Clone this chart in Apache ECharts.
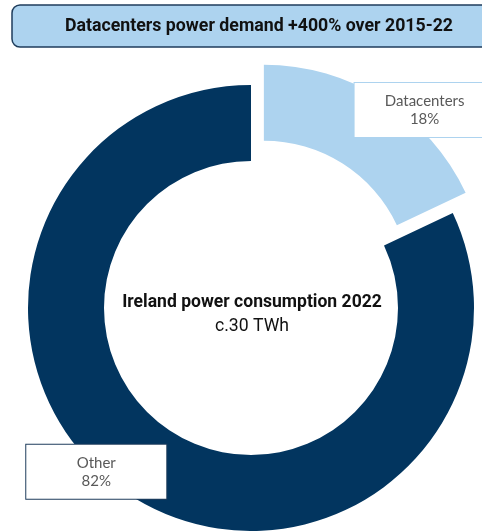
<!DOCTYPE html>
<html>
<head>
<meta charset="utf-8">
<script src="https://cdn.jsdelivr.net/npm/echarts@6/dist/echarts.min.js"></script>
<style>
  html, body { margin: 0; padding: 0; background: #ffffff; }
  #chart { width: 482px; height: 531px; }
</style>
</head>
<body>
<div id="chart"></div>
<script>
// Share of Irish power consumption, 2022 (%)
const categories = ['Datacenters', 'Other'];
const shares = [18, 82];
const sliceColors = ['#ADD3EF', '#02355F'];
const labelBorders = ['#ADD3EF', '#1F3D5C'];

const headline = 'Datacenters power demand +400% over 2015-22';
const centerTitle = 'Ireland power consumption 2022';
const centerSub = 'c.30 TWh';

// label boxes are nudged from the slice midpoints
const labelShifts = [[60, -19], [-54, 5]];

const chart = echarts.init(document.getElementById('chart'), null, { renderer: 'canvas' });

const data = categories.map((name, i) => ({
  name: name,
  value: shares[i],
  selected: i === 0,
  itemStyle: { color: sliceColors[i] },
  label: { borderColor: labelBorders[i], offset: labelShifts[i] },
  select: {
    itemStyle: { color: sliceColors[i], borderWidth: 0 },
    label: { borderColor: labelBorders[i], offset: labelShifts[i] }
  }
}));

chart.setOption({
  animation: false,
  graphic: [
    {
      type: 'rect',
      shape: { x: 12, y: 5, width: 480, height: 42, r: 8 },
      style: { fill: '#ADD3EF', stroke: '#1F3D5C', lineWidth: 1.5 },
      z: 10
    },
    {
      type: 'text',
      x: 259, y: 26, scaleX: 0.985,
      style: {
        text: headline, fill: '#111111',
        font: 'bold 18px Roboto', textAlign: 'center', textVerticalAlign: 'middle'
      },
      z: 11
    },
    {
      type: 'text',
      x: 252, y: 302, scaleX: 0.975,
      style: {
        text: centerTitle, fill: '#111111',
        font: 'bold 18px Roboto', textAlign: 'center', textVerticalAlign: 'middle'
      },
      z: 11
    },
    {
      type: 'text',
      x: 252, y: 326, scaleX: 0.98,
      style: {
        text: centerSub, fill: '#111111',
        font: '18px Roboto', textAlign: 'center', textVerticalAlign: 'middle'
      },
      z: 11
    }
  ],
  series: [{
    type: 'pie',
    center: [251, 308],
    radius: [147, 223],
    startAngle: 90,
    clockwise: true,
    selectedMode: 'single',
    selectedOffset: 24,
    avoidLabelOverlap: false,
    silent: true,
    emphasis: { disabled: true },
    labelLine: { show: false },
    label: {
      show: true,
      position: 'inside',
      formatter: '{b}\n{d}%',
      fontFamily: 'Lato',
      fontSize: 15,
      color: '#595959',
      lineHeight: 18,
      align: 'center',
      width: 140,
      padding: [12, 0, 6, 0],
      backgroundColor: '#ffffff',
      borderWidth: 1
    },
    data: data
  }]
});
</script>
</body>
</html>
